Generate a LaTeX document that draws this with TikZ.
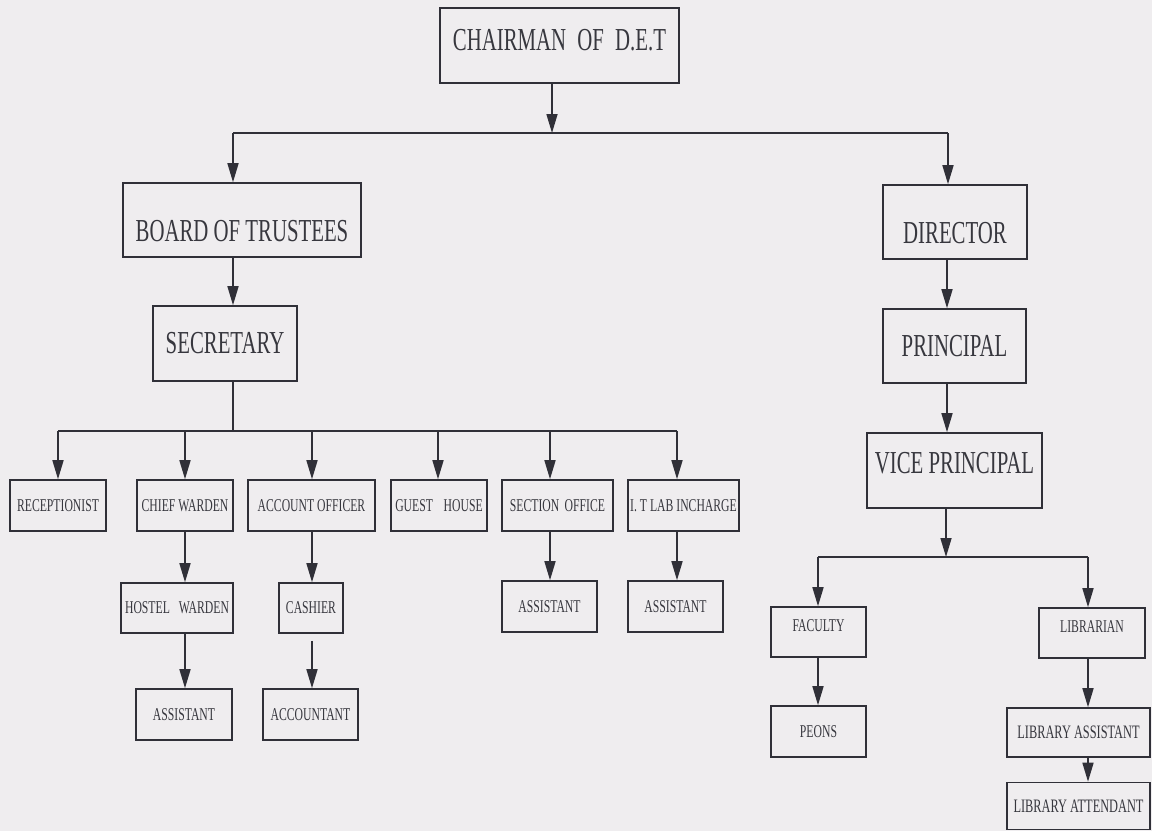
\documentclass[tikz,border=0pt]{standalone}
\usepackage{fontspec}
\setmainfont{Liberation Serif}[FakeStretch=0.65]
\usetikzlibrary{arrows.meta}
\definecolor{bgcol}{RGB}{239,237,239}
\definecolor{inkcol}{RGB}{48,48,56}
\definecolor{txtcol}{RGB}{55,55,62}
\newcommand{\bigtxt}{\fontsize{32}{36}\selectfont}
\newcommand{\smtxt}{\fontsize{18}{21}\selectfont}
\newcommand{\mdtxt}{\fontsize{19}{22}\selectfont}
\newcommand{\shiftedtxt}[2]{\raisebox{#1}[0pt][0pt]{#2}}
\tikzset{
  orgbox/.style={draw=inkcol, line width=1.6pt, inner sep=0pt, text=txtcol, align=center},
  conn/.style={draw=inkcol, line width=1.6pt},
  arr/.style={conn, -{Triangle[length=19pt,width=11pt]}},
}
\begin{document}
\begin{tikzpicture}[x=1pt,y=-1pt]
\fill[bgcol] (0,0) rectangle (1152,831);
\useasboundingbox (0,0) rectangle (1152,831);
% top level
\node[orgbox, minimum width=239pt, minimum height=75pt, font=\bigtxt] (chair) at (559.5,45.5) {\shiftedtxt{-5pt}{CHAIRMAN\hspace{0.35em}OF\hspace{0.35em}D.E.T}};
\node[orgbox, minimum width=238pt, minimum height=74pt, font=\bigtxt] (board) at (242,220) {\shiftedtxt{-21pt}{BOARD OF TRUSTEES}};
\node[orgbox, minimum width=144pt, minimum height=75pt, font=\bigtxt] (sec) at (225,343.5) {SECRETARY};
\node[orgbox, minimum width=144pt, minimum height=74pt, font=\bigtxt] (dir) at (955,222) {\shiftedtxt{-21pt}{DIRECTOR}};
\node[orgbox, minimum width=143pt, minimum height=74pt, font=\bigtxt] (prin) at (954.5,346) {PRINCIPAL};
\node[orgbox, minimum width=175pt, minimum height=75pt, font=\bigtxt] (vp) at (954.5,470.5) {\shiftedtxt{-3pt}{VICE PRINCIPAL}};
% secretary row 1
\node[orgbox, minimum width=96pt, minimum height=51pt, font=\smtxt] (rec) at (58,505.5) {RECEPTIONIST};
\node[orgbox, minimum width=96pt, minimum height=51pt, font=\smtxt] (cw) at (185,505.5) {CHIEF WARDEN};
\node[orgbox, minimum width=127pt, minimum height=51pt, font=\smtxt] (ao) at (311.5,505.5) {ACCOUNT OFFICER};
\node[orgbox, minimum width=96pt, minimum height=51pt, font=\smtxt] (gh) at (439,505.5) {GUEST\hspace{0.6em}HOUSE};
\node[orgbox, minimum width=111pt, minimum height=51pt, font=\smtxt] (so) at (557.5,505.5) {SECTION\hspace{0.3em}OFFICE};
\node[orgbox, minimum width=111pt, minimum height=51pt, font=\smtxt] (it) at (683.5,505.5) {I. T LAB INCHARGE};
% row 2
\node[orgbox, minimum width=112pt, minimum height=50pt, font=\smtxt] (hw) at (177,608) {HOSTEL\hspace{0.5em}WARDEN};
\node[orgbox, minimum width=64pt, minimum height=50pt, font=\smtxt] (cash) at (311,608) {CASHIER};
\node[orgbox, minimum width=95pt, minimum height=51pt, font=\smtxt] (sa) at (549.5,606.5) {ASSISTANT};
\node[orgbox, minimum width=95pt, minimum height=51pt, font=\smtxt] (ia) at (675.5,606.5) {ASSISTANT};
% row 3
\node[orgbox, minimum width=96pt, minimum height=51pt, font=\smtxt] (hwa) at (184,714.5) {ASSISTANT};
\node[orgbox, minimum width=95pt, minimum height=51pt, font=\smtxt] (acct) at (310.5,714.5) {ACCOUNTANT};
% right lower
\node[orgbox, minimum width=95pt, minimum height=50pt, font=\smtxt] (fac) at (818.5,632) {\shiftedtxt{1pt}{FACULTY}};
\node[orgbox, minimum width=106pt, minimum height=50pt, font=\smtxt] (lib) at (1092,633) {\shiftedtxt{1pt}{LIBRARIAN}};
\node[orgbox, minimum width=95pt, minimum height=51pt, font=\smtxt] (peon) at (818.5,731.5) {PEONS};
\node[orgbox, minimum width=143pt, minimum height=49pt, font=\mdtxt] (la) at (1078.5,732.5) {LIBRARY ASSISTANT};
\node[orgbox, minimum width=143pt, minimum height=47pt, font=\mdtxt] (lat) at (1078.5,806) {LIBRARY ATTENDANT};
% bus coordinates
\coordinate (b1) at (552,133);
\coordinate (b1L) at (233,133);
\coordinate (b1R) at (948,133);
\coordinate (b2) at (233,431);
\coordinate (b2L) at (58,431);
\coordinate (b2R) at (677,431);
\coordinate (x185) at (185,0);
\coordinate (x312) at (312,0);
\coordinate (x438) at (438,0);
\coordinate (x550) at (550,0);
\coordinate (x947) at (947,0);
\coordinate (b3) at (946,557);
\coordinate (b3L) at (818,557);
\coordinate (b3R) at (1088,557);
% top connectors
\draw[arr] (chair.south -| b1) -- (b1);
\draw[conn] (b1L) -- (b1R);
\draw[arr] (b1L) -- (board.north -| b1L);
\draw[arr] (b1R) -- (dir.north -| b1R);
\draw[arr] (board.south -| b1L) -- (sec.north -| b1L);
\draw[arr] (dir.south -| x947) -- (prin.north -| x947);
\draw[arr] (prin.south -| x947) -- (vp.north -| x947);
% secretary bus
\draw[conn] (sec.south -| b2) -- (b2);
\draw[conn] (b2L) -- (b2R);
\draw[arr] (b2L) -- (rec.north -| b2L);
\draw[arr] (b2 -| x185) -- (cw.north -| x185);
\draw[arr] (b2 -| x312) -- (ao.north -| x312);
\draw[arr] (b2 -| x438) -- (gh.north -| x438);
\draw[arr] (b2 -| x550) -- (so.north -| x550);
\draw[arr] (b2R) -- (it.north -| b2R);
% children
\draw[arr] (cw.south -| x185) -- (hw.north -| x185);
\draw[arr] (hw.south -| x185) -- (hwa.north -| x185);
\draw[arr] (ao.south -| x312) -- (cash.north -| x312);
\draw[arr] ([yshift=-7pt]cash.south -| x312) -- (acct.north -| x312);
\draw[arr] (so.south -| x550) -- (sa.north -| x550);
\draw[arr] (it.south -| b2R) -- (ia.north -| b2R);
% vice principal bus
\draw[arr] (vp.south -| b3) -- (b3);
\draw[conn] (b3L) -- (b3R);
\draw[arr] (b3L) -- (fac.north -| b3L);
\draw[arr] (b3R) -- (lib.north -| b3R);
\draw[arr] (fac.south -| b3L) -- (peon.north -| b3L);
\draw[arr] (lib.south -| b3R) -- (la.north -| b3R);
\draw[arr] (la.south -| b3R) -- (lat.north -| b3R);
\end{tikzpicture}
\end{document}
